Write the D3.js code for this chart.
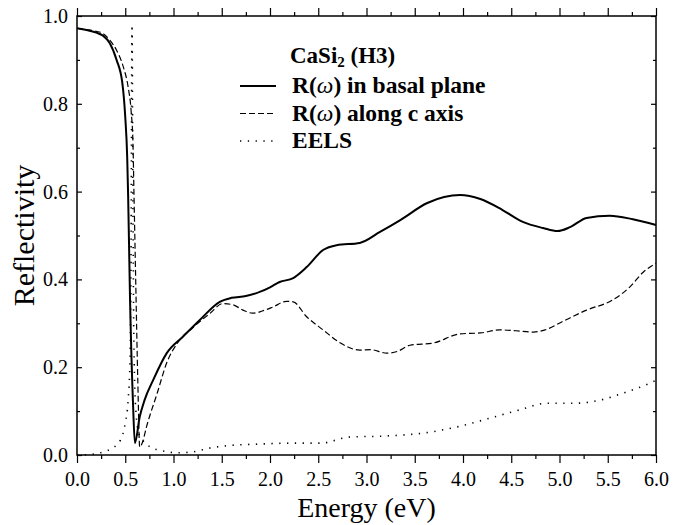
<!DOCTYPE html>
<html>
<head>
<meta charset="utf-8">
<script src="https://cdn.jsdelivr.net/npm/d3@7"></script>
<style>
  body { margin: 0; background: #fff; }
  svg text { font-family: "Liberation Serif", "DejaVu Serif", serif; fill: #000; }
</style>
</head>
<body>
<div class="chart"></div>
<script>
let w = 674;
let h = 525;
let serif = "Liberation Serif, DejaVu Serif, serif";

// R(omega) in basal plane
const basalE = [0, 0.1, 0.2, 0.27, 0.34, 0.41, 0.47, 0.5, 0.52, 0.53, 0.55, 0.58, 0.6, 0.65, 0.7, 0.79, 0.93, 1.1, 1.27, 1.48, 1.6, 1.75, 1.9, 2.0, 2.1, 2.24, 2.38, 2.55, 2.69, 2.93, 3.14, 3.35, 3.63, 3.97, 4.18, 4.41, 4.62, 4.83, 4.98, 5.11, 5.28, 5.52, 5.76, 6.0];
const basalR = [0.972, 0.968, 0.962, 0.955, 0.938, 0.9, 0.847, 0.77, 0.68, 0.59, 0.35, 0.12, 0.027, 0.087, 0.125, 0.171, 0.232, 0.27, 0.307, 0.349, 0.358, 0.362, 0.372, 0.382, 0.394, 0.403, 0.428, 0.467, 0.478, 0.483, 0.508, 0.535, 0.574, 0.592, 0.583, 0.558, 0.531, 0.517, 0.51, 0.519, 0.54, 0.545, 0.537, 0.524];

// R(omega) along c axis
const caxisE = [0, 0.1, 0.2, 0.27, 0.34, 0.41, 0.48, 0.53, 0.56, 0.58, 0.59, 0.61, 0.63, 0.65, 0.68, 0.72, 0.83, 0.93, 1.04, 1.2, 1.38, 1.51, 1.62, 1.72, 1.82, 1.92, 2.03, 2.17, 2.24, 2.38, 2.55, 2.73, 2.93, 3.04, 3.21, 3.32, 3.45, 3.69, 3.97, 4.18, 4.38, 4.55, 4.73, 4.85, 5.04, 5.28, 5.55, 5.73, 5.87, 6.0];
const caxisR = [0.972, 0.969, 0.965, 0.96, 0.945, 0.922, 0.884, 0.838, 0.786, 0.71, 0.6, 0.38, 0.17, 0.018, 0.03, 0.064, 0.14, 0.21, 0.255, 0.29, 0.323, 0.345, 0.342, 0.33, 0.323, 0.328, 0.337, 0.35, 0.349, 0.315, 0.285, 0.255, 0.239, 0.24, 0.232, 0.236, 0.25, 0.255, 0.276, 0.278, 0.285, 0.283, 0.28, 0.285, 0.305, 0.33, 0.353, 0.383, 0.417, 0.437];

// EELS
const eelsE = [0, 0.13, 0.27, 0.37, 0.45, 0.5, 0.53, 0.55, 0.56, 0.57, 0.58, 0.59, 0.61, 0.64, 0.68, 0.76, 0.86, 1.04, 1.2, 1.38, 1.55, 1.9, 2.24, 2.52, 2.83, 3.17, 3.59, 3.94, 4.28, 4.59, 4.87, 5.18, 5.42, 5.66, 5.92, 6.0];
const eelsR = [0, 0.001, 0.007, 0.016, 0.034, 0.073, 0.125, 0.22, 0.45, 0.98, 0.55, 0.25, 0.1, 0.05, 0.034, 0.018, 0.011, 0.005, 0.007, 0.016, 0.021, 0.025, 0.027, 0.027, 0.041, 0.043, 0.05, 0.064, 0.084, 0.103, 0.118, 0.118, 0.125, 0.141, 0.162, 0.17];

const xTicks = [0, 0.5, 1, 1.5, 2, 2.5, 3, 3.5, 4, 4.5, 5, 5.5, 6];
const xMinor = [0.25, 0.75, 1.25, 1.75, 2.25, 2.75, 3.25, 3.75, 4.25, 4.75, 5.25, 5.75];
const yTicks = [0, 0.2, 0.4, 0.6, 0.8, 1.0];
const yMinor = [0.1, 0.3, 0.5, 0.7, 0.9];

const legendLabels = ["in basal plane", "along c axis", "EELS"];

const svg = d3.select(".chart")
              .append("svg")
              .attr("width", w)
              .attr("height", h)
              .style("background-color", "white");

const xScale = d3.scaleLinear()
                 .domain([0, 6])
                 .range([77, 656]);

const yScale = d3.scaleLinear()
                 .domain([0, 1])
                 .range([455, 16]);

// bottom axis, outward ticks
svg.append("g")
   .attr("transform", "translate(0,455)")
   .call(d3.axisBottom(xScale).tickValues(xTicks).tickSize(8).tickPadding(9)
           .tickFormat(d3.format(".1f")))
   .attr("font-family", serif)
   .attr("font-size", 20);
svg.append("g")
   .attr("transform", "translate(0,455)")
   .call(d3.axisBottom(xScale).tickValues(xMinor).tickSize(4).tickFormat(""));

// top axis, outward ticks
svg.append("g")
   .attr("transform", "translate(0,16)")
   .call(d3.axisTop(xScale).tickValues(xTicks).tickSize(8).tickFormat(""));
svg.append("g")
   .attr("transform", "translate(0,16)")
   .call(d3.axisTop(xScale).tickValues(xMinor).tickSize(4).tickFormat(""));

// left axis, inward ticks
svg.append("g")
   .attr("transform", "translate(77,0)")
   .call(d3.axisLeft(yScale).tickValues(yTicks).tickSize(-5).tickPadding(9)
           .tickFormat(d3.format(".1f")))
   .attr("font-family", serif)
   .attr("font-size", 20);
svg.append("g")
   .attr("transform", "translate(77,0)")
   .call(d3.axisLeft(yScale).tickValues(yMinor).tickSize(-3).tickFormat(""));

// right axis, inward ticks
svg.append("g")
   .attr("transform", "translate(656,0)")
   .call(d3.axisRight(yScale).tickValues(yTicks).tickSize(-5).tickFormat(""));
svg.append("g")
   .attr("transform", "translate(656,0)")
   .call(d3.axisRight(yScale).tickValues(yMinor).tickSize(-3).tickFormat(""));

svg.selectAll(".domain").remove();
svg.selectAll(".tick line").attr("stroke", "#000").attr("stroke-width", 1.2);
svg.selectAll(".tick text").attr("fill", "#000");

svg.append("rect")
   .attr("x", xScale(0))
   .attr("y", yScale(1))
   .attr("width", xScale(6) - xScale(0))
   .attr("height", yScale(0) - yScale(1))
   .attr("fill", "none")
   .attr("stroke", "#000")
   .attr("stroke-width", 1.5);

svg.append("text")
   .attr("x", (xScale(0) + xScale(6)) / 2)
   .attr("y", 517)
   .attr("text-anchor", "middle")
   .style("font-size", "28px")
   .text("Energy (eV)");

svg.append("text")
   .attr("transform", "translate(34," + yScale(0.5) + ") rotate(-90)")
   .attr("text-anchor", "middle")
   .style("font-size", "30px")
   .text("Reflectivity");

const line = d3.line()
               .x(d => xScale(d[0]))
               .y(d => yScale(d[1]))
               .curve(d3.curveMonotoneX);

const series = [
  {e: basalE, r: basalR, width: 2, dash: null},
  {e: caxisE, r: caxisR, width: 1.2, dash: "6,3"},
  {e: eelsE, r: eelsR, width: 1.6, dash: "1.3,6.5"}
];

series.forEach(s => {
  svg.append("path")
     .datum(s.e.map((v, i) => [v, s.r[i]]))
     .attr("d", line)
     .attr("fill", "none")
     .attr("stroke", "#000")
     .attr("stroke-width", s.width)
     .attr("stroke-dasharray", s.dash);
});

// legend
const legend = svg.append("g");
legend.append("text")
      .attr("x", 290)
      .attr("y", 63)
      .style("font-size", "23px")
      .style("font-weight", "bold")
      .call(t => {
        t.append("tspan").text("CaSi");
        t.append("tspan").attr("dy", 4).style("font-size", "15px").text("2");
        t.append("tspan").attr("dy", -4).text(" (H3)");
      });

legendLabels.forEach((lab, i) => {
  let yb = 93 + i * 27.5;
  legend.append("line")
        .attr("x1", 240)
        .attr("x2", 276)
        .attr("y1", yb - 7)
        .attr("y2", yb - 7)
        .attr("stroke", "#000")
        .attr("stroke-width", series[i].width)
        .attr("stroke-dasharray", series[i].dash);
  let t = legend.append("text")
                .attr("x", 292)
                .attr("y", yb)
                .style("font-size", "23.5px")
                .style("font-weight", "bold");
  if (i < 2) {
    t.append("tspan").text("R(");
    t.append("tspan").style("font-style", "italic").style("font-weight", "normal").text("ω");
    t.append("tspan").text(") " + lab);
  } else {
    t.text(lab);
  }
});
</script>
</body>
</html>
